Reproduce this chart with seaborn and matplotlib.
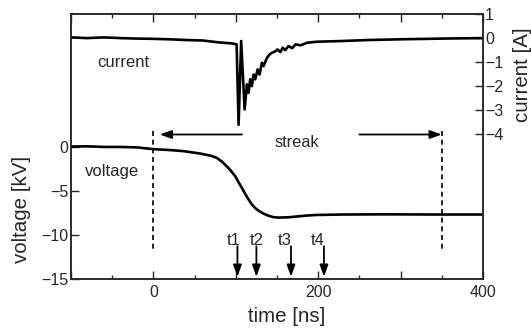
import matplotlib
matplotlib.use("Agg")
import matplotlib.pyplot as plt
from matplotlib.ticker import MultipleLocator, FixedLocator
import seaborn as sns
import pandas as pd

# Voltage trace (ns, kV)
time_v = [-100, -80, -60, -40, -20, 0, 20, 37, 57, 70, 77, 83, 89, 94, 99.4, 103,
          107.5, 111, 115.5, 119, 123.6, 128, 133.7, 140, 145.8, 152, 158, 166,
          174, 186, 198, 230, 280, 340, 400]
voltage = [0.0, 0.02, -0.05, -0.05, -0.1, -0.3, -0.4, -0.53, -0.8, -1.05, -1.29,
           -1.7, -2.24, -2.75, -3.37, -4.0, -4.7, -5.3, -6.0, -6.5, -6.97, -7.3,
           -7.6, -7.85, -8.0, -8.05, -8.03, -8.0, -7.92, -7.82, -7.75, -7.7,
           -7.68, -7.7, -7.7]

# Current trace (ns, A)
time_i = [-100, -80, -60, -40, -20, 0, 20, 40, 60, 80, 95, 101, 103.4, 106.5,
          110.7, 113.5, 115.5, 117.5, 119.5, 121.6, 123.6, 126.5, 128.9, 131.7,
          133.7, 137.8, 141, 143.8, 147.9, 150.7, 154, 157, 160, 164, 168.5,
          172.5, 178.6, 186.7, 198.8, 230, 260, 300, 350, 400]
current = [0.03, 0.0, 0.03, 0.0, -0.02, -0.03, -0.05, -0.08, -0.1, -0.18, -0.22,
           -0.26, -3.6, -0.12, -2.96, -1.92, -2.27, -1.71, -1.99, -1.51, -1.71,
           -1.30, -1.51, -1.02, -1.16, -0.82, -0.68, -0.61, -0.55, -0.47, -0.58,
           -0.40, -0.5, -0.33, -0.42, -0.26, -0.3, -0.19, -0.15, -0.12, -0.08,
           -0.05, -0.02, 0.0]

# Streak window and sampling instants
streak_edges = [0, 350]
streak_arrow_left = [107.5, 7.7]
streak_arrow_right = [250, 350]
sample_names = ["t1", "t2", "t3", "t4"]
sample_times = [102, 125, 167, 207]
sample_label_times = [97, 125.5, 159, 199.5]

sns.set_style("ticks")
plt.rcParams["font.family"] = ["Liberation Sans", "DejaVu Sans"]
plt.rcParams["axes.linewidth"] = 1.1

fig = plt.figure(figsize=(5.31, 3.29), dpi=100)
ax = fig.add_axes([0.1337, 0.152, 0.7759, 0.8054])

df_v = pd.DataFrame({"time": time_v, "voltage": voltage})
df_i = pd.DataFrame({"time": time_i, "current": current})

sns.lineplot(data=df_v, x="time", y="voltage", ax=ax, color="black", lw=1.9)
ax2 = ax.twinx()
sns.lineplot(data=df_i, x="time", y="current", ax=ax2, color="black", lw=1.9)

ax.set_xlim(-100, 400)
ax.set_ylim(-15, 15)
ax2.set_ylim(-10, 1)

ax.xaxis.set_major_locator(FixedLocator([-100, 0, 100, 200, 300, 400]))
ax.set_xticklabels(["", "0", "", "200", "", "400"])
ax.xaxis.set_minor_locator(MultipleLocator(50))
ax.set_yticks([-15, -10, -5, 0])
ax2.set_yticks([-4, -3, -2, -1, 0, 1])

ax.tick_params(axis="x", which="major", direction="in", top=True, bottom=True,
               length=6, width=1.0, pad=4, labelsize=11.5)
ax.tick_params(axis="x", which="minor", direction="in", top=True, bottom=True,
               length=3, width=1.0)
ax.tick_params(axis="y", direction="in", length=5.5, width=1.0, pad=2,
               labelsize=11.5)
ax2.tick_params(axis="y", direction="in", length=5.5, width=1.0, pad=1.5,
                labelsize=11.5)
for sp in ax2.spines.values():
    sp.set_linewidth(1.1)

ax.set_xlabel("")
ax.set_ylabel("")
ax2.set_ylabel("")

# Axis titles
fig.text(22 / 531, 1 - 209 / 329, "voltage [kV]", rotation=90, ha="center",
         va="center", fontsize=14.8)
fig.text(287 / 531, 1 - 316 / 329, "time [ns]", ha="center", va="center",
         fontsize=14.8)
fig.text(523 / 531, 1 - 75 / 329, "current [A]", rotation=90, ha="center",
         va="center", fontsize=14.8)

# Trace names
ax.text(-37, 9.0, "current", ha="center", va="baseline", fontsize=12)
ax.text(-50, -3.3, "voltage", ha="center", va="baseline", fontsize=12)

# Streak window
for t in streak_edges:
    ax.plot([t, t], [1.8, -11.6], color="black", lw=1.2, ls=(0, (3, 2.2)))
arrow_style = dict(arrowstyle="-|>,head_length=0.7,head_width=0.25",
                   color="black", lw=1.3, shrinkA=0, shrinkB=0,
                   mutation_scale=10)
ax.annotate("", xy=(streak_arrow_left[1], 1.36), xytext=(streak_arrow_left[0], 1.36),
            arrowprops=arrow_style)
ax.annotate("", xy=(streak_arrow_right[1], 1.36), xytext=(streak_arrow_right[0], 1.36),
            arrowprops=arrow_style)
ax.text(174.5, -0.11, "streak", ha="center", va="baseline", fontsize=11.8)

# Sampling instants
for name, t, tl in zip(sample_names, sample_times, sample_label_times):
    ax.annotate("", xy=(t, -14.75), xytext=(t, -11.3), arrowprops=arrow_style)
    ax.text(tl, -11.1, name, ha="center", va="baseline", fontsize=12)

fig.savefig("out.png", dpi=100)
